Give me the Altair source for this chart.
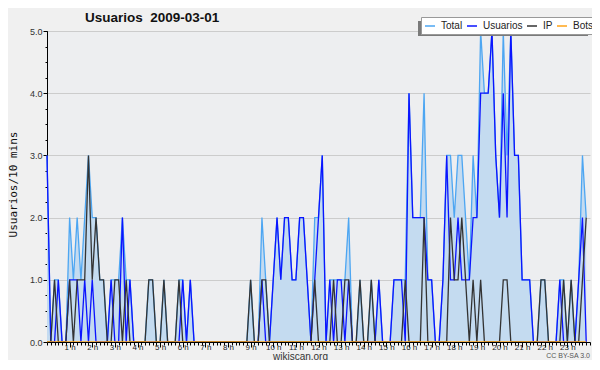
import altair as alt
import pandas as pd

# 10-minute slots, 144 per day (6 per hour)
total = [
    3, 0, 1, 1, 0, 0,
    2, 1, 2, 1, 2, 3,
    2, 2, 1, 1, 0, 1,
    1, 1, 2, 1, 1, 0,
    0, 0, 0, 1, 1, 0,
    0, 1, 0, 0, 0, 1,
    1, 0, 1, 0, 0, 0,
    0, 0, 0, 0, 0, 0,
    0, 0, 0, 0, 0, 0,
    1, 0, 0, 2, 1, 0,
    1, 2, 1, 2, 2, 1,
    1, 2, 2, 1, 0, 2,
    2, 3, 0, 1, 1, 1,
    1, 1, 2, 0, 0, 1,
    0, 0, 1, 0, 1, 0,
    0, 0, 1, 1, 1, 1,
    4, 2, 2, 2, 4, 1,
    1, 0, 0, 1, 3, 3,
    2, 3, 3, 2, 1, 3,
    2, 5, 4, 4, 5, 3,
    2, 5, 3, 5, 3, 3,
    1, 1, 1, 0, 0, 1,
    1, 0, 0, 0, 1, 1,
    0, 1, 0, 1, 3, 2,
]
usuarios = [
    3, 0, 0, 1, 0, 0,
    1, 1, 1, 0, 1, 0,
    1, 0, 0, 0, 0, 1,
    0, 0, 2, 0, 1, 0,
    0, 0, 0, 0, 0, 0,
    0, 0, 0, 0, 0, 0,
    1, 0, 1, 0, 0, 0,
    0, 0, 0, 0, 0, 0,
    0, 0, 0, 0, 0, 0,
    0, 0, 0, 1, 0, 0,
    1, 2, 1, 2, 2, 1,
    1, 2, 2, 1, 0, 1,
    2, 3, 0, 1, 0, 1,
    1, 0, 1, 0, 0, 0,
    0, 0, 0, 0, 1, 0,
    0, 0, 1, 1, 1, 0,
    4, 2, 2, 2, 2, 1,
    1, 0, 0, 1, 3, 1,
    1, 2, 1, 1, 1, 2,
    2, 4, 4, 4, 5, 3,
    2, 4, 2, 5, 3, 3,
    1, 1, 1, 0, 0, 0,
    0, 0, 0, 0, 1, 0,
    0, 0, 0, 1, 2, 0,
]
ip = [
    0, 0, 1, 0, 0, 0,
    1, 0, 1, 1, 1, 3,
    1, 2, 1, 1, 0, 0,
    1, 1, 0, 1, 0, 0,
    0, 0, 0, 1, 1, 0,
    0, 1, 0, 0, 0, 1,
    0, 0, 0, 0, 0, 0,
    0, 0, 0, 0, 0, 0,
    0, 0, 0, 0, 0, 0,
    1, 0, 0, 1, 1, 0,
    0, 0, 0, 0, 0, 0,
    0, 0, 0, 0, 0, 1,
    0, 0, 0, 0, 1, 0,
    0, 1, 1, 0, 0, 1,
    0, 0, 1, 0, 0, 0,
    0, 0, 0, 0, 0, 1,
    0, 0, 0, 0, 2, 0,
    0, 0, 0, 0, 0, 2,
    1, 1, 2, 1, 0, 1,
    0, 1, 0, 0, 0, 0,
    0, 1, 1, 0, 0, 0,
    0, 0, 0, 0, 0, 1,
    1, 0, 0, 0, 0, 1,
    0, 1, 0, 0, 1, 2,
]
bots = [
    0, 0, 0, 0, 0, 0, 0, 0, 0, 0, 0, 0, 0, 0, 0, 0, 0, 0, 0, 0, 0, 0, 0, 0,
    0, 0, 0, 0, 0, 0, 0, 0, 0, 0, 0, 0, 0, 0, 0, 0, 0, 0, 0, 0, 0, 0, 0, 0,
    0, 0, 0, 0, 0, 0, 0, 0, 0, 0, 0, 0, 0, 0, 0, 0, 0, 0, 0, 0, 0, 0, 0, 0,
    0, 0, 0, 0, 0, 0, 0, 0, 0, 0, 0, 0, 0, 0, 0, 0, 0, 0, 0, 0, 0, 0, 0, 0,
    0, 0, 0, 0, 0, 0, 0, 0, 0, 0, 0, 0, 0, 0, 0, 0, 0, 0, 0, 0, 0, 0, 0, 0,
    0, 0, 0, 0, 0, 0, 0, 0, 0, 0, 0, 0, 0, 0, 0, 0, 0, 0, 0, 0, 0, 0, 0, 0,
]

series_names = ["Total", "Usuarios", "IP", "Bots"]
series_colors = ["#4da6f2", "#0b14ff", "#333333", "#ffa319"]
hour_labels = list(range(1, 24))
y_labels = [0, 1, 2, 3, 4, 5]

rows = []
for name, vals in zip(series_names, [total, usuarios, ip, bots]):
    for i, v in enumerate(vals):
        rows.append({"t": i / 6.0, "serie": name, "v": v, "o": series_names.index(name)})
df = pd.DataFrame(rows)
df_total = df[df.serie == "Total"]
one = pd.DataFrame({"t": [0.0], "v": [0.0]})

FONT = "Liberation Sans"
W, H = 543, 311

xscale = alt.Scale(domain=[0, 24], nice=False, zero=False)
yscale = alt.Scale(domain=[0, 5], nice=False)

x_major = alt.X(
    "t:Q", scale=xscale,
    axis=alt.Axis(
        orient="bottom", values=hour_labels, labelExpr="datum.value + ' h'",
        tickSize=5, tickColor="#000", domainColor="#000", labelFontSize=8,
        labelFont=FONT, labelColor="#222", labelPadding=-4, grid=False,
        title="wikiscan.org", titleFont=FONT, titleFontSize=10,
        titleFontWeight="normal", titleColor="#333", titleX=253, titleY=17,
        titleBaseline="alphabetic", zindex=1,
    ),
)
y_major = alt.Y(
    "v:Q", scale=yscale,
    axis=alt.Axis(
        orient="left", values=y_labels, format=".1f", tickSize=4, tickColor="#000",
        domainColor="#000", labelFontSize=9, labelFont=FONT, labelColor="#333",
        labelPadding=1, grid=True, gridColor="#cccccc", gridWidth=1,
        title="Usuarios/10 mins", titleFont="DejaVu Sans Mono", titleFontSize=11,
        titleFontWeight="normal", titleColor="#111", titleAngle=-90,
        titleX=-34, titleY=153, titleAlign="center", titleBaseline="middle",
    ),
)

area = alt.Chart(df_total).mark_area(color="#c4dbf0", opacity=1).encode(
    x=x_major, y=y_major,
)

lines = alt.Chart(df).mark_line(strokeWidth=1.3, interpolate="linear").encode(
    x=alt.X("t:Q", scale=xscale, axis=None),
    y=alt.Y("v:Q", scale=yscale, axis=None),
    color=alt.Color(
        "serie:N",
        scale=alt.Scale(domain=series_names, range=series_colors),
        sort=series_names,
        legend=alt.Legend(
            orient="none", legendX=374, legendY=-14, direction="horizontal",
            title=None, symbolType="stroke", symbolStrokeWidth=1.5,
            symbolSize=100, labelFont=FONT, labelFontSize=10,
            labelColor="#222", fillColor="#ffffff", strokeColor="#999999",
            padding=3, columnPadding=1, labelOffset=5, symbolOffset=0,
            gridAlign="none",
        ),
    ),
    order=alt.Order("o:Q"),
)

# minor ticks (every 10 minutes / every 0.25)
minor_x = alt.Chart(df_total).mark_point(opacity=0).encode(
    x=alt.X("t:Q", scale=xscale, axis=alt.Axis(
        orient="bottom", values=[i / 6.0 for i in range(145)], labels=False,
        tickSize=3, tickColor="#000", domain=False, grid=False, title=None,
        zindex=1)),
    y=alt.Y("v:Q", scale=yscale, axis=alt.Axis(
        orient="left", values=[k / 4.0 for k in range(21)], labels=False,
        tickSize=2, tickColor="#000", domain=False, grid=False, title=None)),
)

shadow = alt.Chart(one).mark_rect(color="#7a7a7a").encode(
    x=alt.value(371), x2=alt.value(541), y=alt.value(-10), y2=alt.value(5),
)

title_txt = alt.Chart(one).mark_text(
    text="Usuarios\u00a0\u00a02009-03-01", font=FONT, fontSize=13.5,
    fontWeight="bold", color="#111", align="left", baseline="alphabetic",
).encode(x=alt.value(38), y=alt.value(-9))

cc = alt.Chart(one).mark_text(
    text="CC BY-SA 3.0", font=FONT, fontSize=7, color="#555", align="right",
    baseline="alphabetic",
).encode(x=alt.value(543), y=alt.value(H + 16))

chart = alt.layer(area, minor_x, lines, shadow, title_txt, cc).resolve_axis(
    x="independent", y="independent"
).properties(
    width=W, height=H,
    background="#f0f0f0",
    padding={"left": 39, "top": 23, "right": 2, "bottom": 18},
    autosize=alt.AutoSizeParams(type="none"),
).configure_view(fill="#edeef0", stroke=None)

chart.save("out.html", embed_options={"renderer": "svg", "actions": False})
